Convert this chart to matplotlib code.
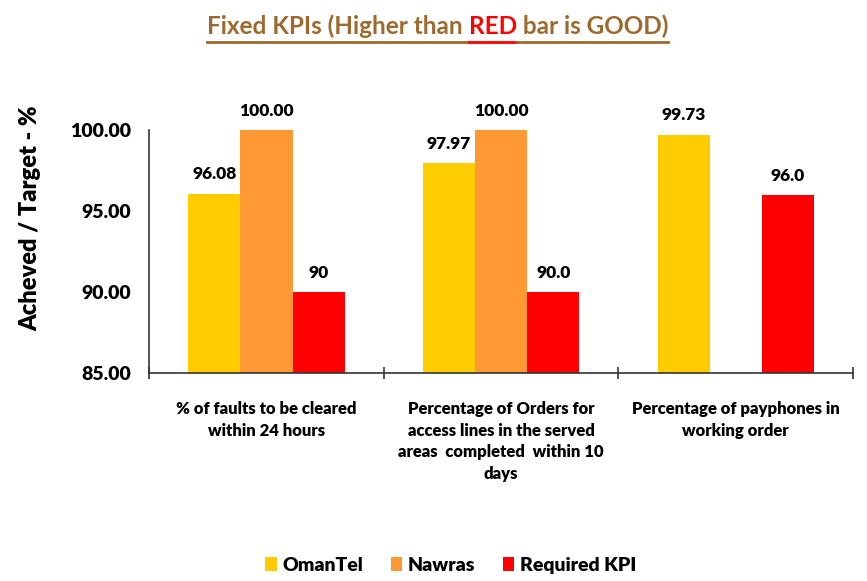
import matplotlib
matplotlib.use("Agg")
import matplotlib.pyplot as plt
import numpy as np

plt.rcParams['font.family'] = ['Lato', 'DejaVu Sans']
plt.rcParams['font.weight'] = 'bold'

categories = [
    "% of faults to be cleared\nwithin 24 hours",
    "Percentage of Orders for\naccess lines in the served\nareas  completed  within 10\ndays",
    "Percentage of payphones in\nworking order",
]
series_names = ["OmanTel", "Nawras", "Required KPI"]
omantel = [96.08, 97.97, 99.73]
nawras = [100.00, 100.00, None]
required = [90, 90.0, 96.0]
value_labels = [
    ["96.08", "97.97", "99.73"],
    ["100.00", "100.00", None],
    ["90", "90.0", "96.0"],
]
colors = ["#FFCC00", "#FF9933", "#FF0000"]

fig = plt.figure(figsize=(8.67, 5.81), dpi=100)
ax = fig.add_axes([0.172, 0.358, 0.812, 0.418])

x = np.arange(len(categories))
w = 0.222
offsets = [-w, 0, w]
for vals, labs, off, c, name in zip([omantel, nawras, required], value_labels,
                                    offsets, colors, series_names):
    xs = [xi + off for xi, v in zip(x, vals) if v is not None]
    vs = [v for v in vals if v is not None]
    ax.bar(xs, [v - 85 for v in vs], bottom=85, width=w, color=c, label=name)
    for xi, v, lab in zip(xs, vs, [l for l in labs if l is not None]):
        ax.annotate(lab, (xi, v), xytext=(0, 8), textcoords='offset points',
                    ha='center', va='bottom', fontsize=12.5, fontweight='heavy',
                    annotation_clip=False)

ax.set_ylim(85, 100)
ax.set_xlim(-0.5, 2.5)
ax.set_yticks([85, 90, 95, 100])
ax.set_yticklabels([f"{v:.2f}" for v in [85, 90, 95, 100]], fontsize=14,
                   fontweight='heavy')
ax.tick_params(axis='y', length=0, pad=13)
ax.set_xticks(x)
ax.set_xticklabels(categories, fontsize=12, fontweight='heavy', linespacing=1.45,
                   va='top')
ax.set_xticks(np.arange(-0.5, 3, 0.5), minor=True)
ax.tick_params(axis='x', which='major', length=0, pad=20)
ax.tick_params(axis='x', which='minor', length=9, direction='inout',
               color='#333333', width=1.2)
for s in ['top', 'right']:
    ax.spines[s].set_visible(False)
for s in ['left', 'bottom']:
    ax.spines[s].set_color('#333333')
    ax.spines[s].set_linewidth(1.2)

fig.text(0.035, 0.625, "Acheved / Target - %", rotation=90, ha='center',
         va='center', fontsize=17, fontweight='heavy')

leg = fig.legend(loc='center', bbox_to_anchor=(0.52, 0.027), ncol=3,
                 frameon=False, fontsize=14, handlelength=0.6,
                 handleheight=0.7, columnspacing=1.4, handletextpad=0.3,
                 prop={'weight': 'heavy', 'size': 14})

# title in pieces with underline
brown = "#9C6A2E"
pieces = [("Fixed KPIs (Higher than ", brown), ("RED", "#FF0000"),
          (" bar is GOOD)", brown)]
fig.canvas.draw()
r = fig.canvas.get_renderer()
texts = []
xpos = 0.0
for s, c in pieces:
    t = fig.text(xpos, 0.955, s, color=c, fontsize=17.5, fontweight='bold',
                 ha='left', va='center')
    texts.append(t)
    bb = t.get_window_extent(r)
    xpos += bb.width / fig.bbox.width
total = xpos
start = 0.5 - total / 2 + 0.005
cur = start
for t in texts:
    t.set_x(cur)
    bb = t.get_window_extent(r)
    cur += bb.width / fig.bbox.width
fig.canvas.draw()
for t in texts:
    bb = t.get_window_extent(r)
    x0 = bb.x0 / fig.bbox.width
    x1 = bb.x1 / fig.bbox.width
    fig.add_artist(plt.Line2D([x0, x1], [0.928, 0.928], color=t.get_color(),
                              lw=2, transform=fig.transFigure))

fig.savefig("out.png", dpi=100)
